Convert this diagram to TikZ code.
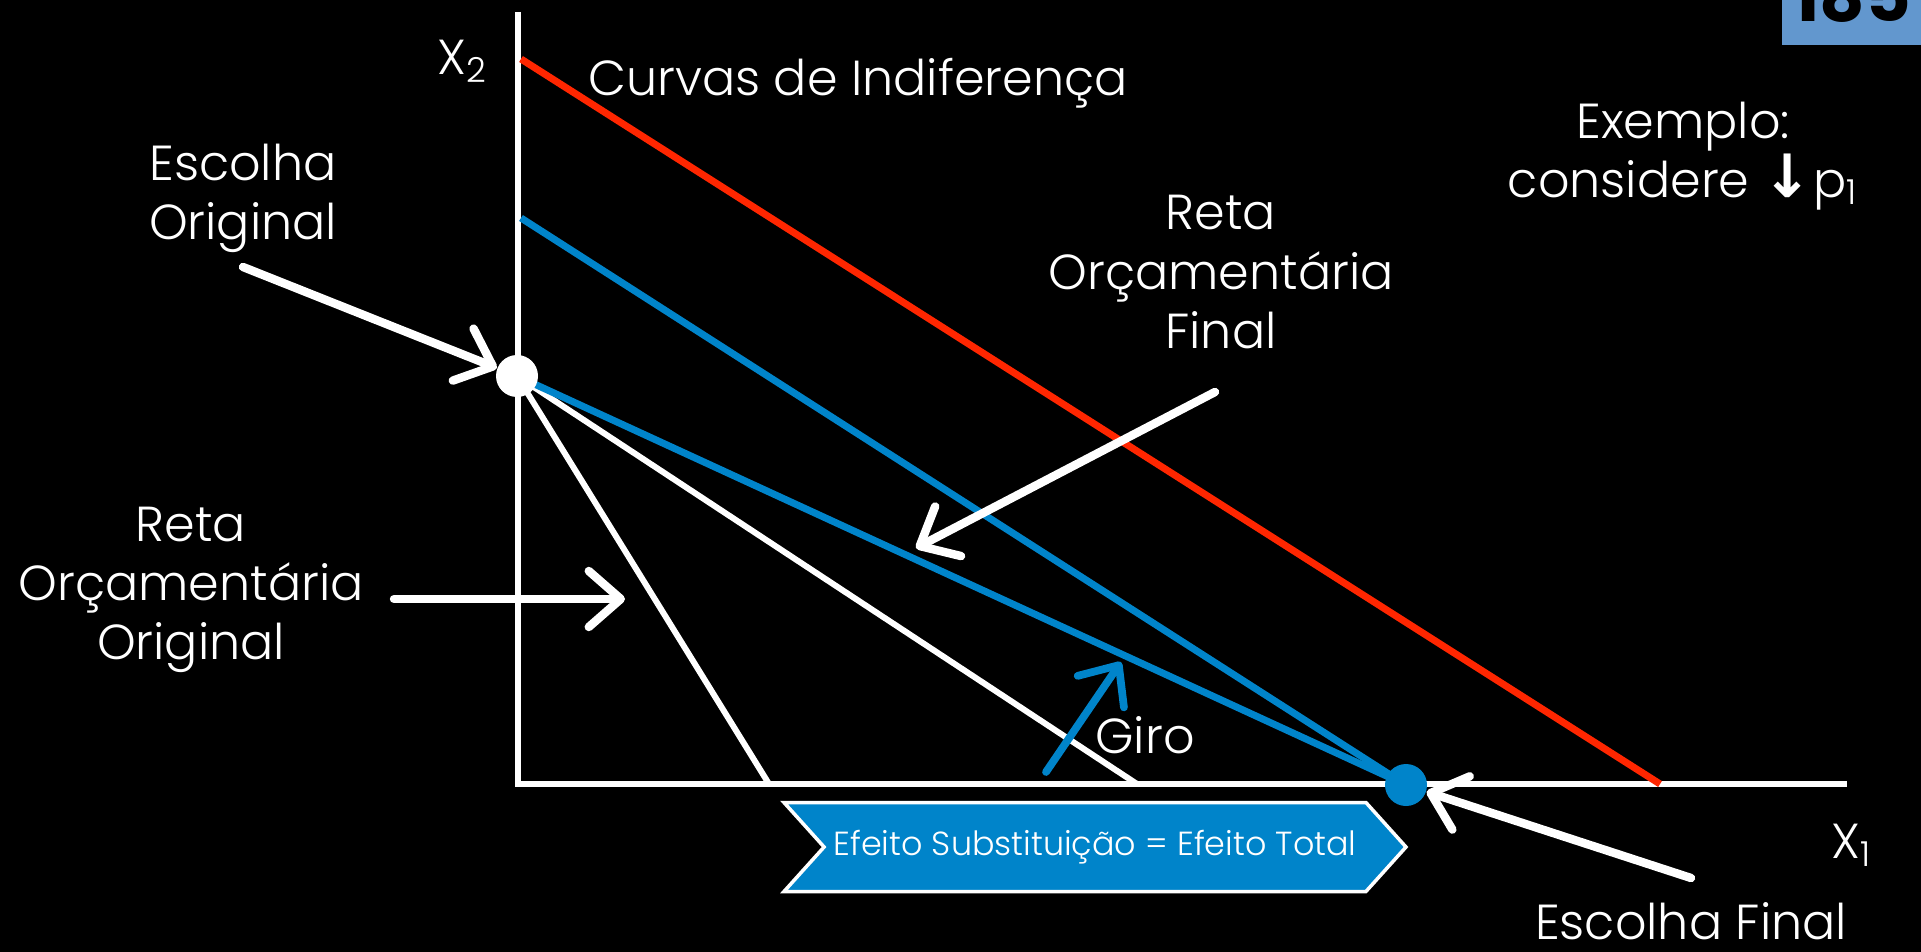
\documentclass[tikz,border=0pt]{standalone}
\usepackage{fontspec}
\setmainfont{Poppins}[UprightFont=* Light, BoldFont=* Bold]
\newfontfamily\arrowfont{DejaVu Sans}
\usetikzlibrary{arrows.meta,shapes.symbols}

\definecolor{budgetblue}{RGB}{0,132,202}
\definecolor{indifred}{RGB}{255,38,0}
\definecolor{pagebox}{RGB}{98,151,206}

\tikzset{
  lbl/.style={text=white, align=center, font=\fontsize{14}{16.8}\selectfont},
  axisline/.style={white, line width=1.9pt},
  budget/.style={white, line width=1.7pt},
  pointer/.style={white, line width=2.4pt, line cap=round,
    -{Straight Barb[round, length=3.2mm, width=5.6mm]}},
  dot/.style={circle, inner sep=0pt, minimum size=4.2mm},
}

\begin{document}
\begin{tikzpicture}[x=0.1mm, y=-0.1mm]
    \useasboundingbox (0,0) rectangle (1921,952);
    \fill[black] (0,0) rectangle (1921,952);

    % slide number
    \fill[pagebox] (1782,0) rectangle (1921,45);
    \node[font=\fontsize{20}{20}\selectfont\bfseries, text=black, anchor=base] (pagenum) at (1852,22) {185};

    % axes
    \coordinate (ytop) at (518,12);
    \coordinate (O) at (518,784);
    \coordinate (xend) at (1847,784);
    \draw[axisline] (ytop) -- (O) -- (xend);
    \node[lbl] (xtwo) at (463,61) {X\textsubscript{2}};
    \node[lbl] (xone) at (1852,845) {X\textsubscript{1}};

    % indifference curve
    \coordinate (redtop) at (521,59);
    \coordinate (redend) at (1660,784);
    \draw[indifred, line width=2pt] (redtop) -- (redend);

    % budget lines
    \coordinate (A) at (517,376);
    \coordinate (B) at (1406,785);
    \coordinate (steep) at (769,784);
    \coordinate (flat) at (1137,784);
    \coordinate (bluetop) at (521,218);
    \draw[budget] (A) -- (steep);
    \draw[budget] (A) -- (flat);
    \draw[budgetblue, line width=2pt] (bluetop) -- (B);
    \draw[budgetblue, line width=2pt] (A) -- (B);
    \node[dot, fill=white] (origdot) at (A) {};
    \node[dot, fill=budgetblue] (finaldot) at (B) {};

    % effect banner
    \node[signal, signal to=east, signal from=west, signal pointer angle=96,
          fill=budgetblue, draw=white, line width=1pt, minimum width=62.2mm,
          minimum height=8.9mm, inner sep=0pt, text=white,
          font=\fontsize{9.5}{9.5}\selectfont] (effect) at (1095,847) {Efeito Substituição = Efeito Total};

    % labels
    \node[lbl] (curvas) at (858,83) {Curvas de Indiferença};
    \node[lbl] (escorig) at (243,198) {Escolha\\Original};
    \node[lbl] (retafinal) at (1221,272) {Reta\\Orçamentária\\Final};
    \node[lbl] (exemplo) at (1683,156) {Exemplo:\\considere {\arrowfont\bfseries\fontsize{17}{17}\selectfont ↓}p\textsubscript{1}};
    \node[lbl] (retaorig) at (191,590) {Reta\\Orçamentária\\Original};
    \node[lbl] (giro) at (1145,735) {Giro};
    \node[lbl] (escfinal) at (1691,921) {Escolha Final};

    % pointers
    \coordinate (eotail) at (243,267);
    \draw[pointer] (eotail) -- (origdot);
    \coordinate (rftail) at (1215,392);
    \coordinate (rftip) at (916,548);
    \draw[pointer] (rftail) -- (rftip);
    \coordinate (rotail) at (394,599);
    \coordinate (rotip) at (625,599);
    \draw[pointer] (rotail) -- (rotip);
    \coordinate (eftail) at (1691,878);
    \draw[pointer] (eftail) -- (finaldot);
    \coordinate (girotail) at (1046,772);
    \coordinate (girotip) at (1121,662);
    \draw[pointer, budgetblue, line width=2.2pt] (girotail) -- (girotip);
\end{tikzpicture}
\end{document}
